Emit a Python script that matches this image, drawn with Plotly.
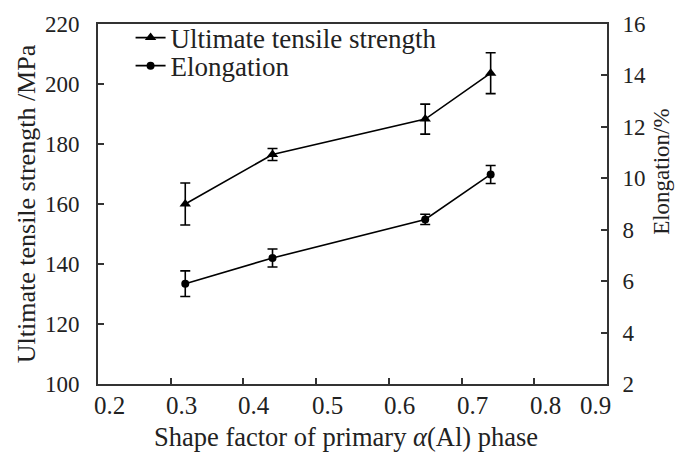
import plotly.graph_objects as go

# Shape factor of the primary α(Al) phase
shape_factor = [0.32, 0.44, 0.65, 0.74]

# Ultimate tensile strength (MPa) with scatter
uts = [160.0, 176.5, 188.3, 203.6]
uts_err = [7.0, 2.0, 5.0, 6.8]

# Elongation (%) with scatter
elong = [5.9, 6.9, 8.4, 10.15]
elong_err = [0.5, 0.35, 0.2, 0.35]

# x-axis tick values and labels
x_ticks = [0.2, 0.3, 0.4, 0.5, 0.6, 0.7, 0.8, 0.9]
x_labels = ["0.2", "0.3", "0.4", "0.5", "0.6", "0.7", "0.8", "0.9"]

FONT = "Liberation Serif, Times New Roman, serif"
TEXT = "#222222"
AXIS_COLOR = "#333333"

fig = go.Figure()

fig.add_trace(go.Scatter(
    x=shape_factor, y=uts, name="Ultimate tensile strength",
    mode="lines+markers",
    line=dict(color="black", width=1.6),
    marker=dict(symbol="triangle-up", size=10, color="black"),
    error_y=dict(type="data", array=uts_err, visible=True,
                 color="black", thickness=1.6, width=5),
    yaxis="y", legend="legend",
))

fig.add_trace(go.Scatter(
    x=shape_factor, y=elong, name="Elongation",
    mode="lines+markers",
    line=dict(color="black", width=1.6),
    marker=dict(symbol="circle", size=8, color="black"),
    error_y=dict(type="data", array=elong_err, visible=True,
                 color="black", thickness=1.6, width=5),
    yaxis="y2", legend="legend2",
))

axis_common = dict(
    showline=True, linecolor=AXIS_COLOR, linewidth=2,
    ticks="inside", ticklen=6, tickwidth=1.6, tickcolor=AXIS_COLOR,
    showgrid=False, zeroline=False,
)

legend_common = dict(
    x=0.064, xanchor="left", yanchor="middle",
    bgcolor="rgba(0,0,0,0)", borderwidth=0,
    font=dict(family=FONT, size=27, color=TEXT),
    itemwidth=30,
)

# x tick labels sit right of their ticks; the last one is pulled left of the frame
annotations = []
for v, t in zip(x_ticks, x_labels):
    annotations.append(dict(
        x=v, xref="x", y=0, yref="paper", yanchor="top", xanchor="center",
        text=t, showarrow=False, yshift=-6,
        xshift=-12 if v == x_ticks[-1] else 11,
        font=dict(family=FONT, size=25, color=TEXT),
    ))

# bottom axis title
annotations.append(dict(
    x=0.487, xref="paper", y=-0.146, yref="paper", xanchor="center", yanchor="middle",
    text="Shape factor of primary <i>α</i>(Al) phase", showarrow=False,
    font=dict(family=FONT, size=26.5, color=TEXT),
))

# right-hand axis title
annotations.append(dict(
    x=1, xref="paper", y=0.588, yref="paper", xanchor="left", yanchor="middle",
    xshift=40, text="Elongation/%", textangle=-90, showarrow=False,
    font=dict(family=FONT, size=23, color=TEXT),
))

fig.update_layout(
    width=677, height=453,
    margin=dict(l=98, r=70, t=20, b=69),
    paper_bgcolor="white", plot_bgcolor="white",
    font=dict(family=FONT, size=24, color=TEXT),
    showlegend=True,
    legend=dict(y=0.961, **legend_common),
    legend2=dict(y=0.883, **legend_common),
    annotations=annotations,
    xaxis=dict(
        range=[0.2, 0.9], tickvals=x_ticks, showticklabels=False,
        mirror=True,
        **axis_common,
    ),
    yaxis=dict(
        range=[100, 220], tickvals=[100, 120, 140, 160, 180, 200, 220],
        tickfont=dict(family=FONT, size=23, color=TEXT),
        ticklabelstandoff=12,
        title=dict(text="Ultimate tensile strength /MPa",
                   font=dict(family=FONT, size=26, color=TEXT), standoff=2),
        **axis_common,
    ),
    yaxis2=dict(
        range=[2, 16], tickvals=[2, 4, 6, 8, 10, 12, 14, 16],
        overlaying="y", side="right",
        tickfont=dict(family=FONT, size=23, color=TEXT),
        ticklabelstandoff=9,
        **axis_common,
    ),
)

fig.write_html("out.html")
